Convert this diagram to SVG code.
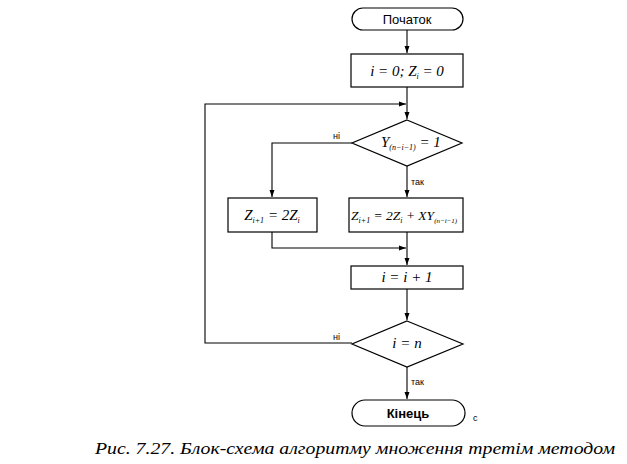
<svg xmlns="http://www.w3.org/2000/svg" width="627" height="464" viewBox="0 0 627 464">
<defs>
<marker id="arr" markerWidth="8" markerHeight="8" refX="7" refY="4" orient="auto" markerUnits="userSpaceOnUse">
<path d="M0,1.5 L7,4 L0,6.5 z" fill="#000"/>
</marker>
<style>
.sh{fill:#fff;stroke:#000;stroke-width:1.2}
.ln{fill:none;stroke:#000;stroke-width:1.1}
.t{font-family:"Liberation Sans",Arial,sans-serif;font-size:13px;fill:#000}
.m{font-family:"Liberation Serif","Times New Roman",serif;font-style:italic;font-size:15px;fill:#000}
.s{font-size:8px}
.lb{font-family:"Liberation Sans",Arial,sans-serif;font-size:9px;fill:#000}
.cap{font-family:"Liberation Serif","Times New Roman",serif;font-style:italic;font-size:17px;fill:#000}
</style>
</defs>
<rect width="627" height="464" fill="#fff"/>
<g id="connectors">
<path class="ln" d="M407,30 V53" marker-end="url(#arr)"/>
<path class="ln" d="M407,87 V119" marker-end="url(#arr)"/>
<path class="ln" d="M352,143 H272 V197" marker-end="url(#arr)"/>
<path class="ln" d="M407,166 V197" marker-end="url(#arr)"/>
<path class="ln" d="M272,232 V248 H406" marker-end="url(#arr)"/>
<path class="ln" d="M407,232 V265" marker-end="url(#arr)"/>
<path class="ln" d="M407,289 V320" marker-end="url(#arr)"/>
<path class="ln" d="M352,343 H205 V104 H406" marker-end="url(#arr)"/>
<path class="ln" d="M407,367 V399" marker-end="url(#arr)"/>
<text class="lb" x="333" y="139">ні</text>
<text class="lb" x="411" y="185">так</text>
<text class="lb" x="333" y="340">ні</text>
<text class="lb" x="411" y="385">так</text>
</g>
<g id="start">
<rect class="sh" x="352" y="8" width="111" height="22" rx="11"/>
<text class="t" x="407" y="24" text-anchor="middle">Початок</text>
</g>
<g id="init">
<rect class="sh" x="351" y="54" width="112" height="33"/>
<text class="m" x="407" y="76" text-anchor="middle">i = 0; Z<tspan class="s" dy="3">i</tspan><tspan dy="-3"> = 0</tspan></text>
</g>
<g id="cond1">
<polygon class="sh" points="407,120 462,143 407,166 352,143"/>
<text class="m" x="381" y="147">Y<tspan class="s" dy="3">(n−i−1)</tspan><tspan dy="-3"> = 1</tspan></text>
</g>
<g id="left">
<rect class="sh" x="228" y="198" width="89" height="34"/>
<text class="m" x="272" y="220" text-anchor="middle">Z<tspan class="s" dy="3">i+1</tspan><tspan dy="-3"> = 2Z</tspan><tspan class="s" dy="3">i</tspan></text>
</g>
<g id="right">
<rect class="sh" x="349" y="198" width="114" height="34"/>
<text class="m" x="351" y="220" style="font-size:13.5px">Z<tspan class="s" dy="3">i+1</tspan><tspan dy="-3"> = 2Z</tspan><tspan class="s" dy="3">i</tspan><tspan dy="-3"> + XY</tspan><tspan style="font-size:7px" dy="3">(n−i−1)</tspan></text>
</g>
<g id="inc">
<rect class="sh" x="351" y="266" width="112" height="23"/>
<text class="m" x="407" y="282" text-anchor="middle">i = i + 1</text>
</g>
<g id="cond2">
<polygon class="sh" points="407,321 463,344 407,367 352,344"/>
<text class="m" x="407" y="348" text-anchor="middle">i = n</text>
</g>
<g id="end">
<rect class="sh" x="352" y="400" width="113" height="26" rx="13"/>
<text class="t" x="408" y="418" text-anchor="middle" font-weight="bold">Кінець</text>
</g>
<text class="lb" x="473" y="421">с</text>
<text class="cap" x="95" y="454" textLength="520" lengthAdjust="spacingAndGlyphs">Рис. 7.27. Блок-схема алгоритму множення третім методом</text>
</svg>
